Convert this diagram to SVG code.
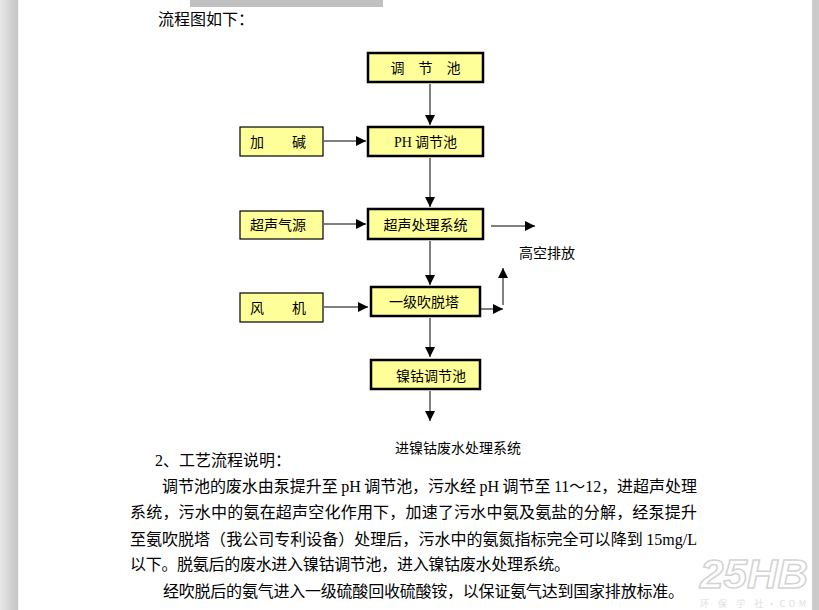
<svg xmlns="http://www.w3.org/2000/svg" width="819" height="610" viewBox="0 0 819 610">
<defs>
<linearGradient id="lm" x1="0" y1="0" x2="1" y2="0">
<stop offset="0" stop-color="#e8e8e8"/>
<stop offset="1" stop-color="#c4c4c4"/>
</linearGradient>
<marker id="ah" viewBox="0 0 10 10" refX="10" refY="5" markerWidth="10" markerHeight="10" markerUnits="userSpaceOnUse" orient="auto">
<path d="M0,0 L10,5 L0,10 z" fill="#000"/>
</marker>
</defs>
<style>
.bx{fill:#ffff99;stroke:#000;stroke-width:2.5}
.sb{fill:#ffff99;stroke:#000;stroke-width:1.2}
.t{font-family:"Noto Sans CJK SC","Noto Sans",sans-serif;font-size:14px;fill:#000}
.p{font-family:"Noto Sans CJK SC","Liberation Serif",serif;font-size:16px;fill:#000}
.r{font-family:"Liberation Serif",serif}
.c line,.c polyline{stroke:#808080;stroke-width:2;fill:none;marker-end:url(#ah)}
</style>
<rect width="819" height="610" fill="#fff"/>
<rect x="0" y="0" width="18" height="610" fill="url(#lm)"/>
<rect x="18" y="0" width="1" height="610" fill="#f4f4f4"/>
<rect x="812" y="0" width="7" height="610" fill="#cbcbcb"/>
<rect x="190" y="0" width="193" height="7" fill="#c0c0c0"/>
<text class="p" x="158" y="25" font-size="15.5">流程图如下：</text>

<g class="c">
<line x1="430" y1="84" x2="430" y2="125"/>
<line x1="324" y1="141" x2="366" y2="141"/>
<line x1="430" y1="158" x2="430" y2="207"/>
<line x1="324" y1="224" x2="366" y2="224"/>
<line x1="491" y1="226" x2="535" y2="226"/>
<line x1="430" y1="241" x2="430" y2="285"/>
<line x1="324" y1="307" x2="368" y2="307"/>
<polyline points="481,309 503,309"/>
<line x1="503" y1="305" x2="503" y2="268"/>
<line x1="430" y1="318" x2="430" y2="357"/>
<line x1="430" y1="391" x2="430" y2="421"/>
</g>

<g id="n1"><rect class="bx" x="368" y="53" width="115" height="29"/><text class="t" x="425.5" y="73" text-anchor="middle">调　节　池</text></g>
<g id="n2"><rect class="bx" x="368" y="127" width="115" height="29"/><text class="t" x="425.5" y="147" text-anchor="middle"><tspan class="r">PH</tspan> 调节池</text></g>
<g id="n3"><rect class="sb" x="240" y="127" width="83" height="29"/><text class="t" x="250" y="147">加　　碱</text></g>
<g id="n4"><rect class="bx" x="368" y="209" width="115" height="30"/><text class="t" x="425.5" y="230" text-anchor="middle">超声处理系统</text></g>
<g id="n5"><rect class="sb" x="240" y="211" width="83" height="28"/><text class="t" x="250" y="230">超声气源</text></g>
<g id="n6"><text class="t" x="519" y="258">高空排放</text></g>
<g id="n7"><rect class="bx" x="371" y="287" width="109" height="29"/><text class="t" x="389" y="307">一级吹脱塔</text></g>
<g id="n8"><rect class="sb" x="240" y="293" width="83" height="29"/><text class="t" x="250" y="313">风　　机</text></g>
<g id="n9"><rect class="bx" x="371" y="360" width="109" height="29"/><text class="t" x="396" y="381">镍钴调节池</text></g>
<g id="n10"><text class="t" x="395" y="453">进镍钴废水处理系统</text></g>

<text class="p" x="155" y="466"><tspan class="r">2</tspan>、工艺流程说明：</text>
<text class="p" x="162" y="492" textLength="535" lengthAdjust="spacing">调节池的废水由泵提升至 <tspan class="r">pH</tspan> 调节池，污水经 <tspan class="r">pH</tspan> 调节至 <tspan class="r">11</tspan>～<tspan class="r">12</tspan>，进超声处理</text>
<text class="p" x="130" y="518" textLength="567" lengthAdjust="spacing">系统，污水中的氨在超声空化作用下，加速了污水中氨及氨盐的分解，经泵提升</text>
<text class="p" x="130" y="545" textLength="567" lengthAdjust="spacing">至氨吹脱塔（我公司专利设备）处理后，污水中的氨氮指标完全可以降到 <tspan class="r">15mg/L</tspan></text>
<text class="p" x="130" y="570" textLength="440" lengthAdjust="spacing">以下。脱氨后的废水进入镍钴调节池，进入镍钴废水处理系统。</text>
<text class="p" x="163" y="597" textLength="521" lengthAdjust="spacing">经吹脱后的氨气进入一级硫酸回收硫酸铵，以保证氨气达到国家排放标准。</text>

<g opacity="0.55">
<text x="700" y="588" font-family="Liberation Sans,sans-serif" font-size="40" font-weight="bold" font-style="italic" fill="#ffffff" stroke="#b0b0b0" stroke-width="1.5" textLength="108" lengthAdjust="spacingAndGlyphs">25HB</text>
<text x="700" y="607" font-family="Noto Sans CJK SC,sans-serif" font-size="9" fill="#c8c8c8" textLength="106">环 保 学 社·COM</text>
</g>
</svg>
